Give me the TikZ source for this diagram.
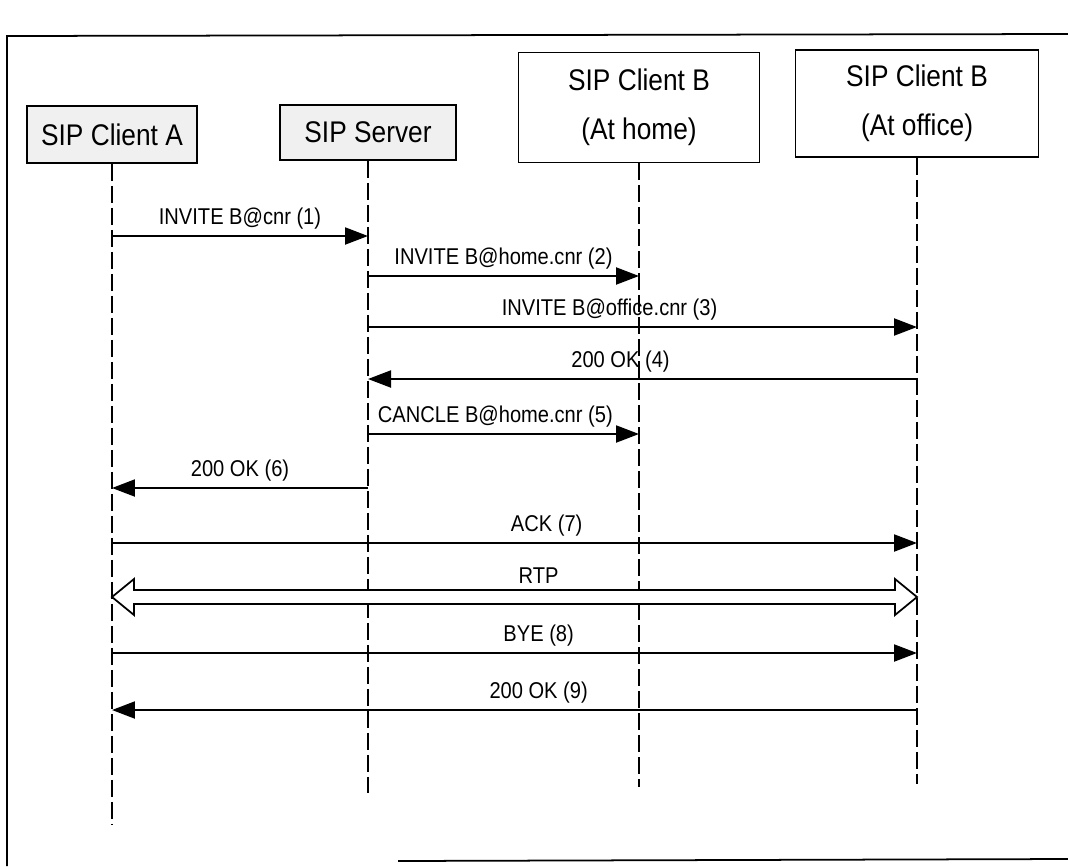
\documentclass[tikz,border=0pt]{standalone}
\usepackage{fontspec}
\setmainfont[FakeStretch=0.88]{Liberation Sans}
\usetikzlibrary{arrows.meta,positioning,calc}

\begin{document}
\begin{tikzpicture}[x=0.02cm,y=-0.02cm,
  entity/.style={draw,line width=1pt,minimum width=3.4cm,minimum height=1.14cm,
    inner sep=2pt,align=center,font=\fontsize{17}{28}\selectfont},
  lifeline/.style={line width=1.1pt,dash pattern=on 0.34cm off 0.1cm},
  msg/.style={line width=1.2pt,-{Triangle[length=0.46cm,width=0.34cm]}},
  lbl/.style={above,font=\fontsize{13}{15}\selectfont}]
  \useasboundingbox (0,0) rectangle (1068,866);
  % frame of the scanned page
  \draw[line width=1pt] (1068,34) -- (7,36) -- (7,866);
  \draw[line width=1pt] (398,861) -- (1068,859);

  % entities
  \node[entity,fill=gray!12] (cla) at (112,134.5) {SIP Client A};
  \node[entity,fill=gray!12,minimum width=3.52cm,minimum height=1.1cm] (srv) at (368,132.5) {SIP Server};
  \node[entity,minimum width=4.82cm,minimum height=2.2cm] (clh) at (639,107.5) {SIP Client B\\(At home)};
  \node[entity,minimum width=4.86cm,minimum height=2.14cm] (clo) at (917,103.5) {SIP Client B\\(At office)};

  % lifelines
  \draw[lifeline] (cla.south) -- ++(0,660);
  \draw[lifeline] (srv.south) -- ++(0,632);
  \draw[lifeline] (clh.south) -- ++(0,624);
  \draw[lifeline] (clo.south) -- ++(0,626);

  % messages
  \path[msg]
    (cla |- 0,236) edge node[lbl] {INVITE B@cnr (1)} (srv |- 0,236)
    (srv |- 0,276) edge node[lbl] {INVITE B@home.cnr (2)} (clh |- 0,276)
    (srv |- 0,327) edge node[lbl,pos=0.44] {INVITE B@office.cnr (3)} (clo |- 0,327)
    (clo |- 0,379) edge node[lbl,pos=0.54,swap] {200 OK (4)} (srv |- 0,379)
    (srv |- 0,434) edge node[lbl,pos=0.47] {CANCLE B@home.cnr (5)} (clh |- 0,434)
    (srv |- 0,488) edge node[lbl] {200 OK (6)} (cla |- 0,488)
    (cla |- 0,543) edge node[lbl,pos=0.54] {ACK (7)} (clo |- 0,543)
    (cla |- 0,653) edge node[lbl,pos=0.53] {BYE (8)} (clo |- 0,653)
    (clo |- 0,710) edge node[lbl,pos=0.47] {200 OK (9)} (cla |- 0,710);

  % media stream
  \coordinate (rtpL) at (cla |- 0,597);
  \coordinate (rtpR) at (clo |- 0,597);
  \draw[line width=1pt,fill=white] (rtpL) -- ++(22,-18) -- ++(0,11)
    -- ($(rtpR)+(-22,-7)$) -- ++(0,-11) -- (rtpR) -- ++(-22,18) -- ++(0,-11)
    -- ($(rtpL)+(22,7)$) -- ++(0,11) -- cycle;
  \node[lbl] (rtp) at ($(rtpL)!0.53!(rtpR)+(0,-7)$) {RTP};
\end{tikzpicture}
\end{document}
